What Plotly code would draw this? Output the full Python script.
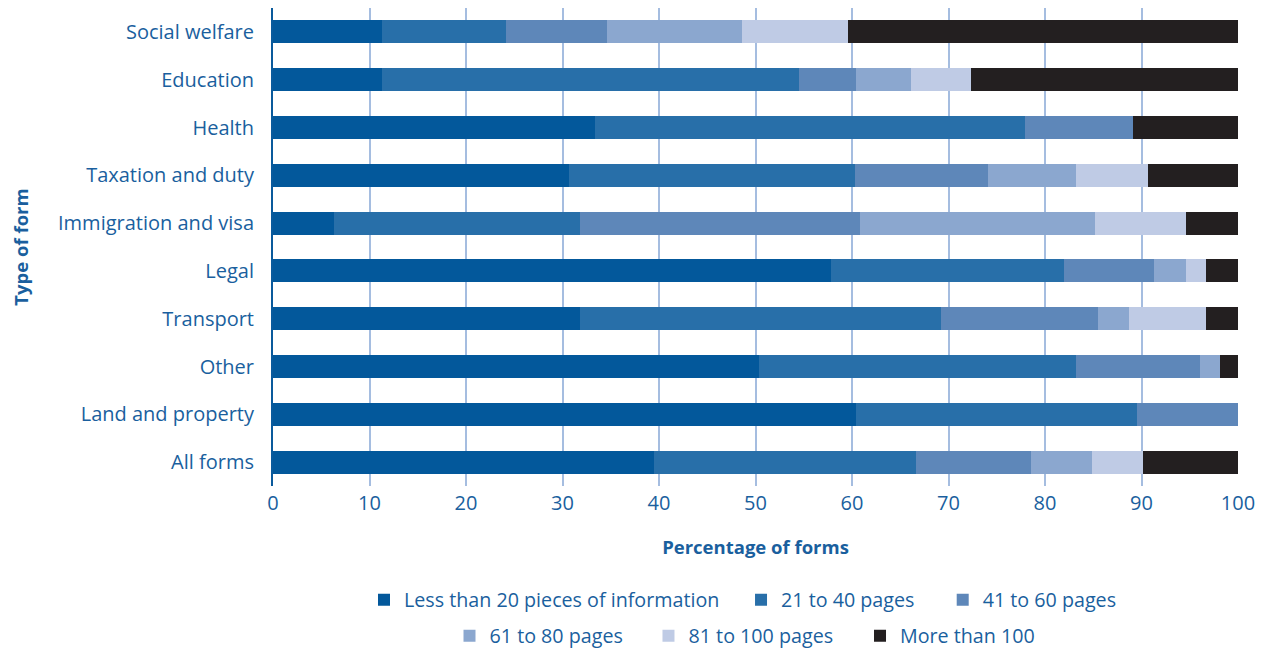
import plotly.graph_objects as go

categories = ["Social welfare", "Education", "Health", "Taxation and duty",
              "Immigration and visa", "Legal", "Transport", "Other",
              "Land and property", "All forms"]

series_names = ["Less than 20 pieces of information", "21 to 40 pages", "41 to 60 pages",
                "61 to 80 pages", "81 to 100 pages", "More than 100"]

less_than_20 = [11.3, 11.3, 33.4, 30.7, 6.3, 57.8, 31.8, 50.4, 60.4, 39.5]
p21_40 = [12.8, 43.2, 44.5, 29.6, 25.5, 24.2, 37.4, 32.8, 29.1, 27.1]
p41_60 = [10.5, 5.9, 11.2, 13.8, 29.0, 9.3, 16.3, 12.9, 10.5, 12.0]
p61_80 = [14.0, 5.7, 0.0, 9.1, 24.4, 3.3, 3.2, 2.0, 0.0, 6.3]
p81_100 = [11.0, 6.2, 0.0, 7.5, 9.4, 2.1, 8.0, 0.0, 0.0, 5.3]
more_100 = [40.4, 27.7, 10.9, 9.3, 5.4, 3.3, 3.3, 1.9, 0.0, 9.8]

x_ticks = [0, 10, 20, 30, 40, 50, 60, 70, 80, 90, 100]

colors = ["#03589b", "#286fa9", "#5e87b9", "#8ba7cf", "#bfcbe5", "#231f20"]
values = [less_than_20, p21_40, p41_60, p61_80, p81_100, more_100]

# one legend per entry so that the two rows match the reference layout
legend_ids = ["legend", "legend2", "legend3", "legend4", "legend5", "legend6"]
legend_x = [0.0943, 0.485, 0.694, 0.1829, 0.3891, 0.6083]
legend_y = [-0.2385, -0.2385, -0.2385, -0.3138, -0.3138, -0.3138]

FONT = "Open Sans"
TXT = "#1a5f9e"

fig = go.Figure()
for name, vals, col, lg in zip(series_names, values, colors, legend_ids):
    fig.add_trace(go.Bar(
        y=categories, x=vals, name=name, orientation="h",
        marker=dict(color=col, line=dict(width=0)),
        legend=lg, showlegend=True,
    ))

layout_legends = {}
for lg, lx, ly in zip(legend_ids, legend_x, legend_y):
    layout_legends[lg] = dict(
        orientation="h", x=lx, xanchor="left", y=ly, yanchor="middle",
        font=dict(size=19.7, color=TXT, family=FONT),
        bgcolor="rgba(0,0,0,0)", borderwidth=0, visible=True,
    )

fig.update_layout(
    showlegend=True,
    barmode="stack",
    bargap=0.52,
    width=1265, height=648,
    margin=dict(l=265, r=35, t=0, b=170),
    plot_bgcolor="white", paper_bgcolor="white",
    font=dict(family=FONT, color=TXT, size=18),
    xaxis=dict(
        range=[0, 100], tickvals=x_ticks, showgrid=True,
        gridcolor="#a5bde0", gridwidth=1.5, zeroline=False,
        showline=False, ticks="", ticklabelstandoff=3,
        tickfont=dict(size=20, color=TXT, family=FONT),
        title=dict(text="<b>Percentage of forms</b>", standoff=26,
                   font=dict(size=18.5, color=TXT, family=FONT)),
    ),
    yaxis=dict(
        autorange="reversed", showgrid=False, showline=True,
        linecolor="#0a5a9c", linewidth=2, ticks="",
        ticklabelstandoff=13,
        tickfont=dict(size=20, color=TXT, family=FONT),
        title=dict(text="<b>Type of form</b>", standoff=35,
                   font=dict(size=18.5, color=TXT, family=FONT)),
    ),
    **layout_legends,
)

fig.write_html("out.html")
